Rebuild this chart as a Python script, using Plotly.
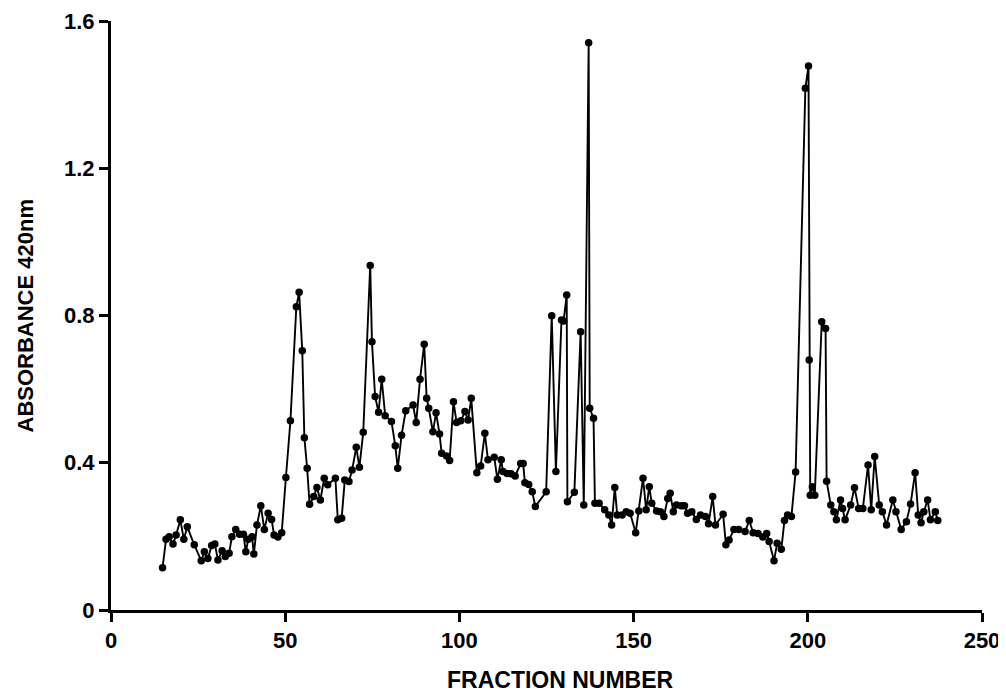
import plotly.graph_objects as go

fraction = [
    14.8, 15.8, 16.7, 17.8, 18.7, 19.9, 20.9, 21.9, 23.9, 25.9, 26.8, 27.8, 28.9, 29.8, 30.7,
    31.9, 32.8, 33.9, 34.7, 35.8, 36.9, 38.0, 38.7, 39.4, 40.5, 41.0, 41.9, 43.0, 44.0, 45.1,
    46.1, 46.8, 47.9, 49.0, 50.2, 51.5, 53.2, 54.0, 54.9, 55.5, 56.3, 57.0, 58.2, 59.1, 60.1,
    61.2, 62.2, 64.4, 65.1, 66.2, 67.1, 68.3, 69.2, 70.4, 71.3, 72.4, 74.4, 74.9, 75.8, 76.8,
    77.7, 78.7, 80.5, 81.6, 82.3, 83.4, 84.6, 86.7, 87.6, 88.7, 89.9, 90.6, 91.2, 92.4, 93.3,
    94.3, 94.9, 96.3, 97.2, 98.3, 99.2, 100.4, 101.6, 102.5, 103.4, 105.0, 106.1, 107.3, 108.2,
    110.0, 110.9, 112.0, 112.5, 113.7, 114.8, 116.0, 117.6, 118.3, 118.8, 119.9, 120.9, 121.8,
    124.9, 126.5, 127.7, 129.3, 129.9, 130.8, 131.0, 133.0, 134.8, 135.7, 137.1, 137.4, 138.5,
    138.9, 140.1, 141.7, 142.9, 143.7, 144.6, 145.3, 146.7, 147.9, 149.0, 150.6, 151.5, 152.7,
    153.6, 154.5, 155.2, 156.6, 157.7, 158.7, 159.8, 160.5, 161.4, 162.3, 163.7, 164.6, 165.5,
    166.7, 168.0, 169.2, 170.6, 171.5, 172.7, 173.5, 175.7, 176.5, 177.4, 178.8, 180.2, 182.0,
    183.2, 184.3, 185.7, 187.1, 188.2, 188.9, 190.3, 191.2, 192.4, 193.3, 194.2, 195.3, 196.5,
    199.3, 200.2, 200.4, 200.7, 201.3, 202.0, 204.0, 205.1, 205.4, 206.6, 207.5, 208.2, 209.4,
    210.0, 210.7, 212.3, 213.4, 214.6, 215.8, 217.3, 218.2, 219.2, 220.5, 221.4, 222.6, 224.4,
    225.3, 226.8, 228.3, 229.5, 230.8, 231.7, 232.5, 233.3, 234.4, 235.2, 236.6, 237.3,
]

absorbance = [
    0.115, 0.192, 0.199, 0.179, 0.204, 0.245, 0.192, 0.226, 0.177, 0.134, 0.158, 0.140, 0.175, 0.179, 0.136,
    0.161, 0.145, 0.154, 0.199, 0.219, 0.206, 0.206, 0.158, 0.192, 0.199, 0.152, 0.231, 0.283, 0.219, 0.263,
    0.246, 0.204, 0.198, 0.210, 0.360, 0.514, 0.824, 0.863, 0.704, 0.468, 0.385, 0.287, 0.308, 0.333, 0.299,
    0.358, 0.340, 0.358, 0.245, 0.249, 0.353, 0.349, 0.380, 0.442, 0.388, 0.483, 0.936, 0.729, 0.580, 0.537,
    0.627, 0.528, 0.512, 0.446, 0.385, 0.475, 0.541, 0.557, 0.509, 0.627, 0.722, 0.575, 0.548, 0.484, 0.536,
    0.478, 0.426, 0.418, 0.406, 0.566, 0.509, 0.514, 0.539, 0.516, 0.575, 0.373, 0.391, 0.480, 0.408,
    0.415, 0.355, 0.408, 0.376, 0.371, 0.370, 0.364, 0.398, 0.398, 0.346, 0.341, 0.321, 0.281,
    0.321, 0.799, 0.376, 0.788, 0.785, 0.856, 0.294, 0.320, 0.756, 0.285, 1.541, 0.548, 0.521,
    0.290, 0.290, 0.272, 0.258, 0.231, 0.333, 0.258, 0.258, 0.267, 0.263, 0.210, 0.269, 0.358,
    0.272, 0.335, 0.290, 0.269, 0.267, 0.254, 0.303, 0.317, 0.267, 0.285, 0.283, 0.283, 0.263,
    0.267, 0.246, 0.258, 0.254, 0.234, 0.308, 0.231, 0.260, 0.177, 0.190, 0.219, 0.219, 0.213,
    0.243, 0.210, 0.208, 0.198, 0.208, 0.186, 0.134, 0.181, 0.165, 0.243, 0.258, 0.254, 0.375,
    1.417, 1.478, 0.679, 0.312, 0.335, 0.312, 0.783, 0.765, 0.350, 0.285, 0.267, 0.245, 0.299,
    0.276, 0.245, 0.285, 0.332, 0.276, 0.276, 0.394, 0.272, 0.417, 0.285, 0.267, 0.231, 0.299,
    0.267, 0.219, 0.240, 0.288, 0.373, 0.258, 0.237, 0.267, 0.299, 0.245, 0.267, 0.243,
]

x_ticks = [0, 50, 100, 150, 200, 250]
y_ticks = [0, 0.4, 0.8, 1.2, 1.6]
x_title = "FRACTION NUMBER"
y_title = "ABSORBANCE 420nm"

FONT = "Liberation Sans"

fig = go.Figure(
    go.Scatter(
        x=fraction,
        y=absorbance,
        mode="lines+markers",
        line=dict(color="black", width=1.9),
        marker=dict(color="black", size=7.5),
        cliponaxis=False,
        hoverinfo="x+y",
    )
)

axis_common = dict(
    showline=True,
    linecolor="black",
    linewidth=3,
    ticks="outside",
    ticklen=9,
    tickwidth=2.5,
    tickcolor="black",
    showgrid=False,
    zeroline=False,
    automargin=False,
    tickfont=dict(family=FONT, size=22, color="black", weight="bold"),
)

fig.update_xaxes(range=[0, 250], tickvals=x_ticks, **axis_common)
fig.update_yaxes(range=[0, 1.6], tickvals=y_ticks,
                 ticktext=[("%g" % v) for v in y_ticks], **axis_common)

# page body adds an 8 px offset, so the figure is 8 px smaller each way
W, H = 998, 687
L, R, T, B = 103, 24, 13, 85
pw, ph = W - L - R, H - T - B

fig.add_annotation(
    text=x_title, xref="paper", yref="paper",
    x=(552 - L) / pw, y=-(672 - (H - B)) / ph,
    xanchor="center", yanchor="middle", showarrow=False,
    font=dict(family=FONT, size=23, color="black", weight="bold"),
)
fig.add_annotation(
    text=y_title, xref="paper", yref="paper", x=(17 - L) / pw, y=0.50,
    xanchor="center", yanchor="middle", showarrow=False, textangle=-90,
    font=dict(family=FONT, size=22, color="black", weight="bold"),
)

fig.update_layout(
    template="none",
    width=W,
    height=H,
    margin=dict(l=L, r=R, t=T, b=B, autoexpand=False),
    paper_bgcolor="white",
    plot_bgcolor="white",
    showlegend=False,
)

fig.write_html("out.html")
